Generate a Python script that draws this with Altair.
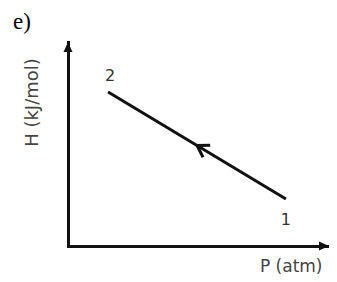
import math
import altair as alt
import pandas as pd

# data (arbitrary axis units)
state_labels = ["1", "2"]
pressure = [8.10, 1.49]
enthalpy = [2.30, 7.55]
p_domain = [0, 9.7]
h_domain = [0, 10]

W, H = 261, 204

states = pd.DataFrame({"state": state_labels, "P": pressure, "H": enthalpy})
mid = pd.DataFrame({"P": [sum(pressure) / 2], "H": [sum(enthalpy) / 2]})
x_end = pd.DataFrame({"P": [p_domain[1]], "H": [h_domain[0]]})
y_end = pd.DataFrame({"P": [p_domain[0]], "H": [h_domain[1]]})

dx = (pressure[1] - pressure[0]) * W / (p_domain[1] - p_domain[0])
dy = -(enthalpy[1] - enthalpy[0]) * H / (h_domain[1] - h_domain[0])
arrow_angle = math.degrees(math.atan2(dy, dx)) % 360

INK = "#111111"
TXT = "#444444"

x_enc = alt.X(
    "P:Q",
    scale=alt.Scale(domain=p_domain, nice=False, zero=False),
    axis=alt.Axis(
        title="P (atm)", domain=True, domainColor=INK, domainWidth=3,
        domainCap="square", ticks=False, labels=False, grid=False,
        titleFont="DejaVu Sans", titleFontSize=17, titleFontWeight="normal",
        titleColor=TXT, titleX=254, titleY=29, titleAlign="right",
        titleBaseline="bottom",
    ),
)
y_enc = alt.Y(
    "H:Q",
    scale=alt.Scale(domain=h_domain, nice=False, zero=False),
    axis=alt.Axis(
        title="H (kJ/mol)", domain=True, domainColor=INK, domainWidth=3,
        domainCap="square", ticks=False, labels=False, grid=False,
        titleFont="DejaVu Sans", titleFontSize=18, titleFontWeight="normal",
        titleColor=TXT, titleX=-36, titleY=60, titleAngle=270,
        titleAlign="center", titleBaseline="middle",
    ),
)

line = alt.Chart(states).mark_line(color=INK, strokeWidth=3).encode(
    x=x_enc, y=y_enc, order="state:N"
)

chevron = alt.Chart(mid).mark_point(
    shape="M-1,-0.62L0,0L-1,0.62", filled=False, color=INK,
    strokeWidth=3, size=500, angle=arrow_angle, opacity=1,
).encode(x=x_enc, y=y_enc)

x_head = alt.Chart(x_end).mark_point(
    shape="M0,0L-1,-0.45L-1,0.45Z", filled=True, color=INK, size=400, opacity=1
).encode(x=x_enc, y=y_enc)

y_head = alt.Chart(y_end).mark_point(
    shape="M0,0L-0.45,1L0.45,1Z", filled=True, color=INK, size=400, opacity=1
).encode(x=x_enc, y=y_enc)

lab2 = alt.Chart(states).transform_filter("datum.state == '2'").mark_text(
    font="DejaVu Sans", fontSize=16, color="#333333", dx=2, dy=-16
).encode(x=x_enc, y=y_enc, text="state:N")

lab1 = alt.Chart(states).transform_filter("datum.state == '1'").mark_text(
    font="DejaVu Sans", fontSize=16, color="#333333", dx=0, dy=21
).encode(x=x_enc, y=y_enc, text="state:N")

chart = alt.layer(line, chevron, x_head, y_head, lab2, lab1).properties(
    width=W,
    height=H,
    autosize="none",
    padding={"left": 60, "top": 34, "right": 0, "bottom": 32},
    background="white",
    title=alt.TitleParams(
        "e)", anchor="start", frame="group", font="Liberation Serif",
        fontSize=23, fontWeight="normal", color="#000000", dx=-55, offset=8,
    ),
).configure_view(stroke=None)

chart.save("out.html", embed_options={"renderer": "svg", "actions": False})
